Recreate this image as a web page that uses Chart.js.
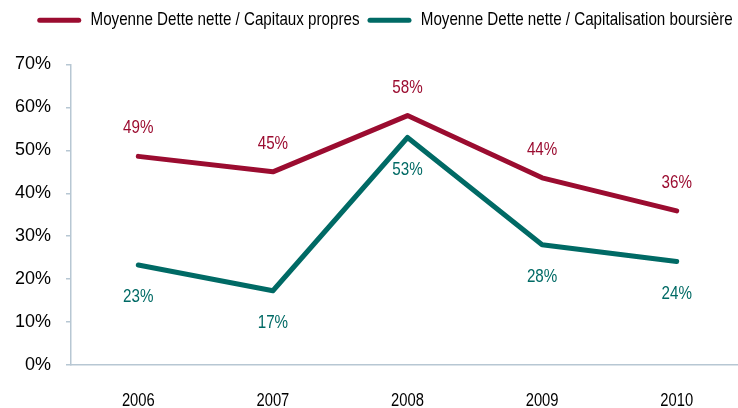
<!DOCTYPE html>
<html>
<head>
<meta charset="utf-8">
<script src="https://cdn.jsdelivr.net/npm/chart.js@4/dist/chart.umd.min.js"></script>
<style>
  html, body { margin: 0; padding: 0; background: #fff; overflow: hidden; }
  #wrap { width: 770px; height: 408px; }
</style>
</head>
<body>
<div id="wrap"><canvas id="myChart"></canvas></div>
<script>
'use strict'
let years = ['2006', '2007', '2008', '2009', '2010'];
let detteCapitaux = [48.6, 45.0, 58.1, 43.6, 35.9];
let detteCapitalisation = [23.3, 17.3, 53.0, 28.0, 24.1];
let seriesNames = ['Moyenne Dette nette / Capitaux propres', 'Moyenne Dette nette / Capitalisation boursière'];
let yTicks = [0, 10, 20, 30, 40, 50, 60, 70];

let redColor = '#9b0c30';
let tealColor = '#006a65';
let axisColor = '#b7c7d3';
// no narrow font installed: 'Arial Narrow' falls back to Liberation Sans and gets squeezed below
let narrowFont = "'Arial Narrow', 'Liberation Sans', sans-serif";
let plainFont = "'Liberation Sans', Arial, sans-serif";
let squeeze = 0.82;

// squeeze text horizontally whenever the font asks for 'Narrow'
let proto = CanvasRenderingContext2D.prototype;
let origFill = proto.fillText;
let origMeasure = proto.measureText;
proto.fillText = function (text, x, y, maxWidth) {
  if (this.font.indexOf('Narrow') < 0) return origFill.apply(this, arguments);
  this.save();
  this.translate(x, y);
  this.scale(squeeze, 1);
  if (maxWidth === undefined) origFill.call(this, text, 0, 0);
  else origFill.call(this, text, 0, 0, maxWidth / squeeze);
  this.restore();
};
proto.measureText = function (text) {
  let m = origMeasure.call(this, text);
  if (this.font.indexOf('Narrow') < 0) return m;
  return {
    width: m.width * squeeze,
    actualBoundingBoxLeft: m.actualBoundingBoxLeft * squeeze,
    actualBoundingBoxRight: m.actualBoundingBoxRight * squeeze,
    actualBoundingBoxAscent: m.actualBoundingBoxAscent,
    actualBoundingBoxDescent: m.actualBoundingBoxDescent
  };
};

// labels above the red line, below the teal one
let labelOffsets = [-28, 32];

let pointLabels = {
  id: 'pointLabels',
  afterDatasetsDraw(chart) {
    let ctx = chart.ctx;
    ctx.save();
    ctx.font = '18.5px ' + narrowFont;
    ctx.textAlign = 'center';
    ctx.textBaseline = 'middle';
    chart.data.datasets.forEach(function (ds, i) {
      let meta = chart.getDatasetMeta(i);
      ctx.fillStyle = ds.borderColor;
      meta.data.forEach(function (pt, j) {
        ctx.fillText(Math.round(ds.data[j]) + '%', pt.x, pt.y + labelOffsets[i]);
      });
    });
    ctx.restore();
  }
};

// extra room under the legend, and nudge it right a bit
let legendSpace = {
  id: 'legendSpace',
  beforeInit(chart) {
    let origFit = chart.legend.fit;
    chart.legend.fit = function () {
      origFit.bind(chart.legend)();
      this.height += 25;
    };
  },
  afterLayout(chart) {
    chart.legend.left += 13;
    chart.legend.right += 13;
  }
};

let ctx = document.getElementById('myChart').getContext('2d');
let chart = new Chart(ctx, {
  type: 'line',
  data: {
    labels: years,
    datasets: [{
      label: seriesNames[0],
      data: detteCapitaux,
      borderColor: redColor,
      backgroundColor: redColor,
      borderWidth: 5,
      pointRadius: 0,
      borderCapStyle: 'round',
      borderJoinStyle: 'round',
      tension: 0
    }, {
      label: seriesNames[1],
      data: detteCapitalisation,
      borderColor: tealColor,
      backgroundColor: tealColor,
      borderWidth: 5,
      pointRadius: 0,
      borderCapStyle: 'round',
      borderJoinStyle: 'round',
      tension: 0
    }]
  },
  options: {
    responsive: true,
    maintainAspectRatio: false,
    animation: false,
    layout: { padding: { left: 0, right: 26, top: 3, bottom: 0 } },
    plugins: {
      tooltip: { enabled: false },
      legend: {
        position: 'top',
        labels: {
          color: '#000',
          font: { family: narrowFont, size: 18.5 },
          boxWidth: 44,
          boxHeight: 5,
          padding: 8,
          useBorderRadius: true,
          borderRadius: 2.5,
          generateLabels: function (c) {
            let items = Chart.defaults.plugins.legend.labels.generateLabels(c);
            items.forEach(function (it) { it.lineWidth = 0; });
            return items;
          }
        }
      }
    },
    scales: {
      x: {
        offset: true,
        afterFit: function (scale) { scale.height = 43; },
        grid: { display: false, drawTicks: false },
        border: { display: true, color: axisColor, width: 1.5 },
        ticks: { color: '#000', font: { family: narrowFont, size: 18 }, padding: 25 }
      },
      y: {
        min: 0,
        max: 70,
        afterBuildTicks: function (scale) {
          scale.ticks = yTicks.map(function (v) { return { value: v }; });
        },
        afterFit: function (scale) { scale.width = 71; },
        grid: { drawOnChartArea: false, drawTicks: true, tickLength: 5, color: axisColor, lineWidth: 1.5 },
        border: { display: true, color: axisColor, width: 1.5 },
        ticks: {
          color: '#000',
          font: { family: plainFont, size: 18 },
          padding: 15,
          callback: function (v) { return v + '%'; }
        }
      }
    }
  },
  plugins: [pointLabels, legendSpace]
});
</script>
</body>
</html>
